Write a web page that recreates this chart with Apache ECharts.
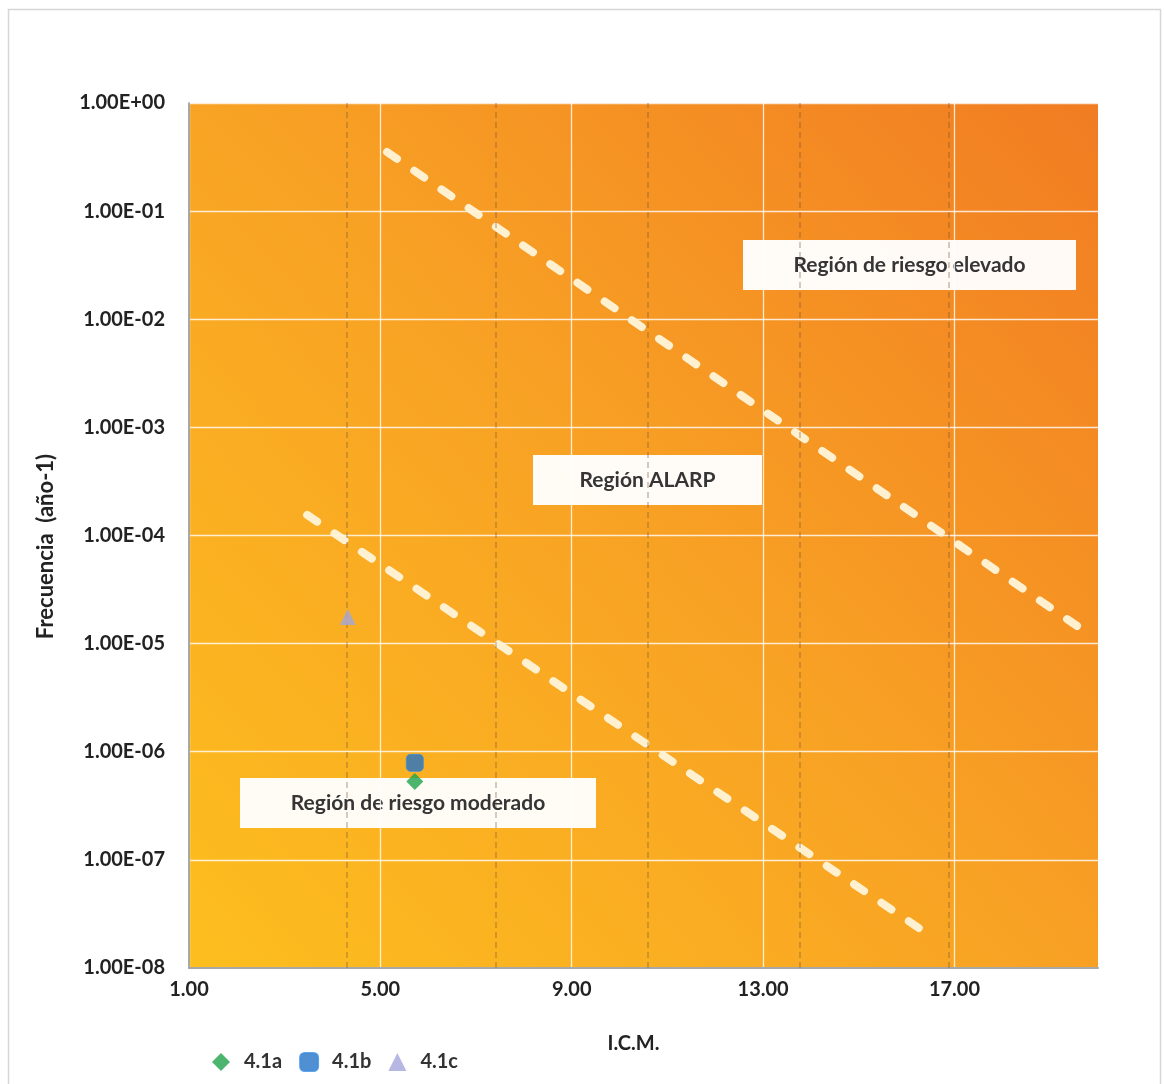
<!DOCTYPE html>
<html>
<head>
<meta charset="utf-8">
<script src="https://cdn.jsdelivr.net/npm/echarts@6/dist/echarts.min.js"></script>
<style>
  html, body { margin: 0; padding: 0; background: #ffffff; }
  #chart { width: 1164px; height: 1084px; }
</style>
</head>
<body>
<div id="chart"></div>
<script>
// I.C.M. tick values shown on the horizontal axis
const icmTicks = [1, 5, 9, 13, 17];

// Scenario points: [I.C.M., frequency per year]
const point41a = [[5.72, 5.3e-7]];
const point41b = [[5.72, 7.9e-7]];
const point41c = [[4.32, 1.76e-5]];

// Risk region boundaries (end points of each dashed line)
const upperBoundary = [[5.14, 0.352], [19.9, 1.15e-5]];
const lowerBoundary = [[3.47, 1.55e-4], [16.32, 2.24e-8]];

// Secondary dashed guide lines
const guideX = [4.3, 7.42, 10.59, 13.77, 16.89];
const guideY = [1e-7];

const regionLabels = ['Región de riesgo elevado', 'Región ALARP', 'Región de riesgo moderado'];

const FONT = 'Lato, "Open Sans", sans-serif';

function sci(v) {
  const e = Math.round(Math.log10(v));
  const m = v / Math.pow(10, e);
  const sign = e < 0 ? '-' : '+';
  const ae = Math.abs(e);
  return m.toFixed(2) + 'E' + sign + (ae < 10 ? '0' + ae : String(ae));
}

const chart = echarts.init(document.getElementById('chart'), null, { renderer: 'canvas' });

function labelBox(text, x, y, w, h) {
  return {
    type: 'group',
    left: x, top: y, z: 50,
    children: [
      { type: 'rect', shape: { x: 0, y: 0, width: w, height: h },
        style: { fill: 'rgba(255,255,255,0.96)' } },
      { type: 'text', x: w / 2, y: h / 2,
        style: { text: text, fill: '#353535', font: 'bold 21px ' + FONT,
                 align: 'center', verticalAlign: 'middle' } }
    ]
  };
}

const option = {
  backgroundColor: '#ffffff',
  animation: false,
  grid: {
    left: 189, right: 66, top: 103, bottom: 116,
    show: true,
    borderWidth: 0,
    backgroundColor: new echarts.graphic.LinearGradient(0, 1, 1, 0, [
      { offset: 0, color: '#FDBE1E' },
      { offset: 0.5, color: '#F8A224' },
      { offset: 1, color: '#F17C22' }
    ])
  },
  xAxis: {
    type: 'value',
    min: 1, max: 20,
    name: 'I.C.M.',
    nameLocation: 'middle',
    nameGap: 66,
    nameTextStyle: { fontFamily: FONT, fontWeight: 'bold', fontSize: 20, color: '#222', padding: [0, 20, 0, 0] },
    axisLine: { show: true, lineStyle: { color: '#a8a8a8', width: 2 } },
    axisTick: { show: false, customValues: icmTicks },
    axisLabel: {
      customValues: icmTicks,
      margin: 12,
      fontFamily: FONT, fontWeight: 'bold', fontSize: 20, color: '#222',
      formatter: v => v.toFixed(2)
    },
    splitLine: { show: true, lineStyle: { color: 'rgba(255,255,255,0.8)', width: 1.3 } }
  },
  yAxis: {
    type: 'log',
    logBase: 10,
    min: 1e-8, max: 1,
    name: 'Frecuencia  (año-1)',
    nameLocation: 'middle',
    nameRotate: 90,
    nameGap: 132,
    nameTextStyle: { fontFamily: FONT, fontWeight: 'bold', fontSize: 22, color: '#222', padding: [0, 22, 0, 0] },
    axisLine: { show: true, lineStyle: { color: '#8c8c8c', width: 1.5 } },
    axisTick: { show: false },
    axisLabel: {
      margin: 24,
      fontFamily: FONT, fontWeight: 'bold', fontSize: 20, color: '#222',
      formatter: v => sci(v)
    },
    splitLine: { show: true, lineStyle: { color: 'rgba(255,255,255,0.8)', width: 1.3 } }
  },
  legend: {
    left: 207, top: 1047,
    itemWidth: 18, itemHeight: 18,
    itemGap: 17,
    textStyle: { fontFamily: FONT, fontWeight: 'bold', fontSize: 20, color: '#333', padding: [0, 0, 0, 9] },
    data: [
      { name: '4.1a', icon: 'diamond' },
      { name: '4.1b', icon: 'roundRect' },
      { name: '4.1c', icon: 'triangle' }
    ]
  },
  series: [
    {
      name: 'guides',
      type: 'line',
      data: [],
      silent: true,
      z: 1,
      markLine: {
        silent: true,
        symbol: ['none', 'none'],
        label: { show: false },
        lineStyle: { color: 'rgba(110,80,50,0.38)', type: [6, 4], width: 1.5 },
        data: guideX.map(v => ({ xAxis: v })).concat(guideY.map(v => ({ yAxis: v })))
      }
    },
    {
      name: 'upper',
      type: 'line',
      data: upperBoundary,
      showSymbol: false,
      silent: true,
      z: 3,
      lineStyle: { color: '#FFF4DA', width: 8, type: [12, 21], cap: 'round', opacity: 0.95 }
    },
    {
      name: 'lower',
      type: 'line',
      data: lowerBoundary,
      showSymbol: false,
      silent: true,
      z: 3,
      lineStyle: { color: '#FFF4DA', width: 8, type: [12, 21], cap: 'round', opacity: 0.95 }
    },
    {
      name: '4.1a', type: 'scatter', symbol: 'diamond', symbolSize: 17, z: 10,
      itemStyle: { color: '#1FA34B' },
      data: point41a
    },
    {
      name: '4.1b', type: 'scatter', symbol: 'roundRect', symbolSize: 17, z: 10,
      itemStyle: { color: '#2473C6', borderColor: '#3E8FE0', borderWidth: 1 },
      data: point41b
    },
    {
      name: '4.1c', type: 'scatter', symbol: 'triangle', symbolSize: 16, z: 10,
      itemStyle: { color: '#A4A6DC' },
      data: point41c
    }
  ],
  graphic: [
    { type: 'rect', left: 6, top: 7, z: -10, silent: true,
      shape: { width: 1152, height: 1090 },
      style: { fill: 'none', stroke: '#d6d6d6', lineWidth: 1.5 } },
    labelBox(regionLabels[0], 743, 240, 333, 50),
    labelBox(regionLabels[1], 533, 455, 229, 50),
    labelBox(regionLabels[2], 240, 778, 356, 50)
  ]
};

chart.setOption(option);
</script>
</body>
</html>
